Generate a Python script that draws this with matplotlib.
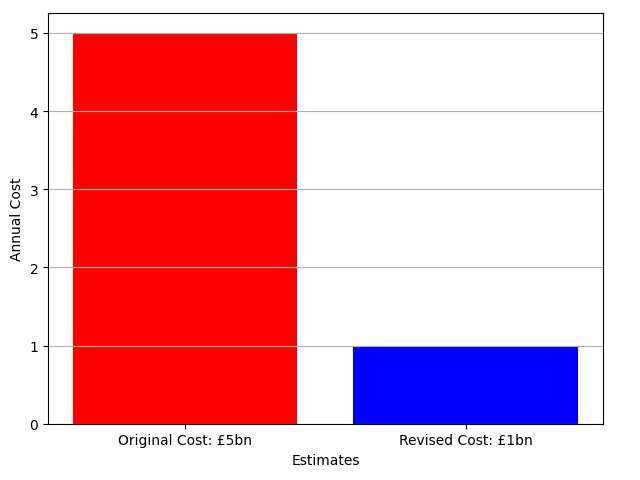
import matplotlib
matplotlib.use("Agg")
from matplotlib import pyplot as plt

# bar data
labels = ["Original Cost: £5bn", "Revised Cost: £1bn"]
costs = [5, 1]
colours = ["red", "blue"]

fig, ax = plt.subplots(figsize=(6.4, 4.81), dpi=100)
ax.bar(labels, costs, color=colours)
ax.set_xlabel("Estimates")
ax.set_ylabel("Annual Cost")
ax.grid(True, axis="y")
fig.subplots_adjust(left=0.075, right=0.942, top=0.97, bottom=0.117)
fig.savefig("out.png")
